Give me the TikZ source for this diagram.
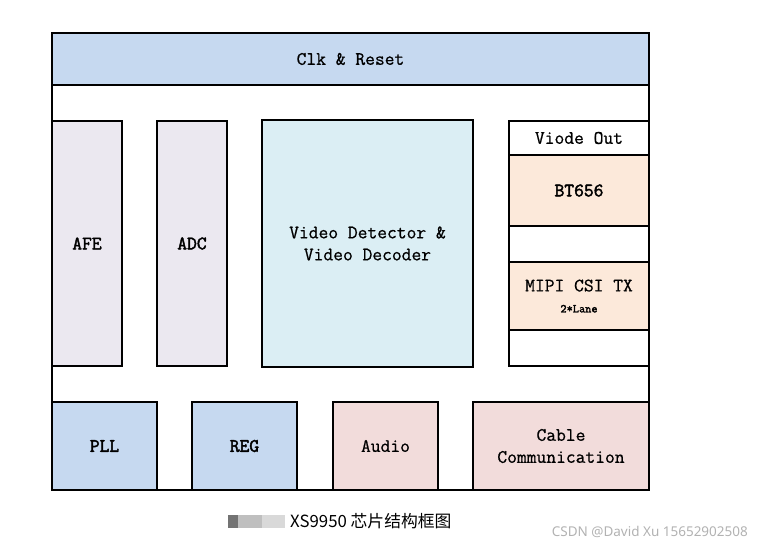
\documentclass[tikz,border=0pt]{standalone}
\usepackage{fontspec}
\newfontfamily\cjk{Noto Sans CJK SC}
\newfontfamily\wmfont{Noto Sans}
\newfontfamily\boxtt[FakeBold=0.7]{Latin Modern Mono}
\newfontfamily\boxttb[FakeBold=2.2]{Latin Modern Mono}
\usetikzlibrary{positioning}
\definecolor{clkblue}{HTML}{C6D9F0}
\definecolor{lavend}{HTML}{EBE8F0}
\definecolor{vidcyan}{HTML}{DBEEF4}
\definecolor{peach}{HTML}{FCE9DA}
\definecolor{rose}{HTML}{F2DCDB}
\tikzstyle{block} = [rectangle, draw=black, line width=1.1pt, inner sep=0pt,
outer sep=0pt, align=center, font=\boxtt\fontsize{19}{22}\selectfont]
\tikzstyle{frontend} = [block, fill=lavend, minimum width=70pt, minimum
height=245pt, font=\boxttb\fontsize{19}{22}\selectfont]
\tikzstyle{sysblk} = [block, fill=clkblue, minimum width=105pt, minimum
height=88pt, font=\boxttb\fontsize{19}{22}\selectfont]
\tikzstyle{audblk} = [block, fill=rose, minimum height=88pt]
\tikzstyle{outblk} = [block, fill=peach, minimum width=140pt]

\begin{document}
\begin{tikzpicture}[x=1pt, y=-1pt]
              \useasboundingbox (0,0) rectangle (765,546);
              \node (chip) [block, minimum width=597pt, minimum height=457pt,
              anchor=north west] at (52,33) {};
              \node (clk) [block, fill=clkblue, minimum width=597pt, minimum
              height=52pt, anchor=north west] at (52,33) {Clk \& Reset};

              \node (afe) [frontend, anchor=north west] at (52,121) {AFE};
              \node (adc) [frontend, right=35pt of afe] {ADC};
              \node (vdec) [block, fill=vidcyan, minimum width=211pt, minimum
              height=247pt, right=35pt of adc] {Video Detector \&\\Video
              Decoder};
              \node (vout) [block, fill=white, minimum width=140pt, minimum
              height=245pt, anchor=north west] at (509,121) {};
              \node (voutlbl) [block, minimum width=140pt, minimum height=34pt,
              anchor=north] at (vout.north) {Viode Out};
              \node (bt) [outblk, minimum height=71pt, below=0pt of voutlbl,
              font=\boxttb\fontsize{19}{22}\selectfont] {BT656};
              \node (mipi) [outblk, minimum height=68pt, below=36pt of bt]
              {MIPI CSI TX\\[-1pt]{\boxttb\fontsize{12}{14}\selectfont
              2*Lane}};

              \node (pll) [sysblk, anchor=north west] at (52,402) {PLL};
              \node (reg) [sysblk, right=35pt of pll] {REG};
              \node (audio) [audblk, minimum width=105pt, right=36pt of reg]
              {Audio};
              \node (cable) [audblk, minimum width=176pt, right=35pt of audio]
              {Cable\\Communication};

              \node (cap) [font=\cjk\fontsize{16.8}{18}\selectfont, anchor=west,
              inner sep=0pt] at (290,521) {XS9950 芯片结构框图};
              \fill[black!55] (228,515) rectangle (238,528);
              \fill[black!25] (238,515) rectangle (262,528);
              \fill[black!15] (262,515) rectangle (285,528);
              \node (csdn) [font=\wmfont\fontsize{13.5}{15}\selectfont,
              text=black!30, anchor=east, inner sep=0pt] at (748,532)
              {CSDN @David Xu 15652902508};
            \end{tikzpicture}
\end{document}
